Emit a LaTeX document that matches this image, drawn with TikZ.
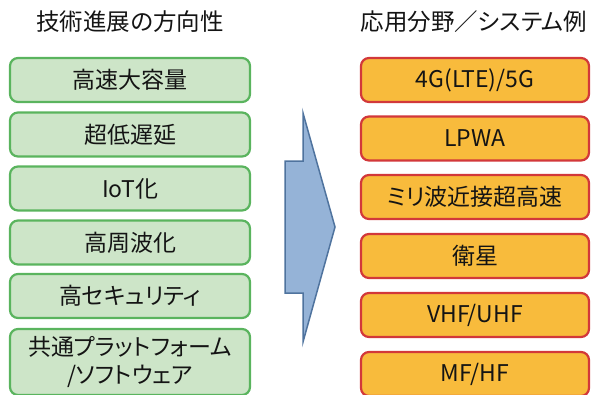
\documentclass[tikz,border=0pt]{standalone}
\usepackage{fontspec}
\setmainfont[RawFeature=+palt]{Noto Sans CJK JP}
\definecolor{gfill}{HTML}{CDE5C8}
\definecolor{gline}{HTML}{5AB45E}
\definecolor{ofill}{HTML}{F8BB3C}
\definecolor{oline}{HTML}{D2383A}
\definecolor{afill}{HTML}{95B3D7}
\definecolor{aline}{HTML}{4F739E}
\definecolor{txt}{HTML}{141414}
\tikzset{
  techbox/.style={draw=gline, fill=gfill, line width=2.2pt, rounded corners=8pt,
    minimum width=240pt, minimum height=44pt, inner sep=0pt, align=center,
    text=txt, font=\fontsize{23}{28}\selectfont},
  appbox/.style={draw=oline, fill=ofill, line width=2.2pt, rounded corners=8pt,
    minimum width=228pt, minimum height=44pt, inner sep=0pt, align=center,
    text=txt, font=\fontsize{23}{28}\selectfont},
  headtxt/.style={text=txt, font=\fontsize{23.5}{26}\selectfont, inner sep=0pt},
  bigarrow/.style={draw=aline, fill=afill, line width=1.5pt, line join=miter}
}
\begin{document}
\begin{tikzpicture}[x=1pt,y=-1pt]
\useasboundingbox (0,0) rectangle (592,394);
\node[headtxt] (h1) at (130,22) {技術進展の方向性};
\node[headtxt] (h2) at (474,22) {応用分野／システム例};

\node[techbox] (t1) at (130,80) {高速大容量};
\node[techbox] (t2) at (130,134.5) {超低遅延};
\node[techbox] (t3) at (130,188.5) {IoT化};
\node[techbox] (t4) at (130,242.5) {高周波化};
\node[techbox] (t5) at (130,296) {高セキュリティ};
\node[techbox, minimum height=66pt] (t6) at (130,362) {共通プラットフォーム\\/ソフトウェア};

\draw[bigarrow] (285,161) -- (303,161) -- (303,113) -- (335,227) -- (303,342) -- (303,293) -- (285,293) -- cycle;

\node[appbox] (a1) at (475,80) {4G(LTE)/5G};
\node[appbox] (a2) at (475,138.5) {LPWA};
\node[appbox] (a3) at (475,197) {ミリ波近接超高速};
\node[appbox] (a4) at (475,256) {衛星};
\node[appbox] (a5) at (475,315) {VHF/UHF};
\node[appbox] (a6) at (475,374) {MF/HF};
\end{tikzpicture}
\end{document}
